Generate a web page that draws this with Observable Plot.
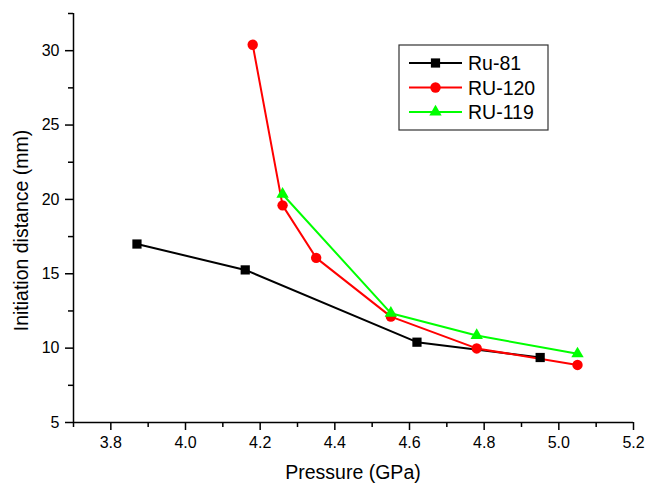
<!DOCTYPE html>
<html>
<head>
<meta charset="utf-8">
<script src="https://cdn.jsdelivr.net/npm/d3@7"></script>
<script src="https://cdn.jsdelivr.net/npm/@observablehq/plot@0.6"></script>
<style>
  html, body { margin: 0; padding: 0; background: #fff; }
  #chart { width: 646px; height: 484px; }
</style>
</head>
<body>
<div id="chart"></div>
<script>
// Data
const seriesNames = ["Ru-81", "RU-120", "RU-119"];
const ru81Pressure = [3.87, 4.16, 4.62, 4.95];
const ru81Distance = [17.0, 15.26, 10.4, 9.37];
const ru120Pressure = [4.18, 4.26, 4.35, 4.55, 4.78, 5.05];
const ru120Distance = [30.4, 19.6, 16.07, 12.12, 9.98, 8.87];
const ru119Pressure = [4.26, 4.55, 4.78, 5.05];
const ru119Distance = [20.35, 12.35, 10.85, 9.62];
const xMajorTicks = [3.8, 4.0, 4.2, 4.4, 4.6, 4.8, 5.0, 5.2];
const xMinorTicks = [3.7, 3.9, 4.1, 4.3, 4.5, 4.7, 4.9, 5.1];
const yMajorTicks = [5, 10, 15, 20, 25, 30];
const yMinorTicks = [7.5, 12.5, 17.5, 22.5, 27.5, 32.5];

const colors = {"Ru-81": "#000000", "RU-120": "#ff0000", "RU-119": "#00ff00"};
const symbols = {"Ru-81": "square", "RU-120": "circle", "RU-119": "triangle"};
const radii = {"Ru-81": 5.2, "RU-120": 5.2, "RU-119": 4.6};

const toRows = (name, xs, ys) => xs.map((x, i) => ({series: name, pressure: x, distance: ys[i]}));
const rows = {
  "Ru-81": toRows("Ru-81", ru81Pressure, ru81Distance),
  "RU-120": toRows("RU-120", ru120Pressure, ru120Distance),
  "RU-119": toRows("RU-119", ru119Pressure, ru119Distance)
};

const seriesMarks = [];
for (const name of seriesNames) {
  seriesMarks.push(Plot.line(rows[name], {x: "pressure", y: "distance", stroke: colors[name], strokeWidth: 2}));
}
for (const name of seriesNames) {
  seriesMarks.push(Plot.dot(rows[name], {x: "pressure", y: "distance", fill: colors[name], stroke: "none", symbol: symbols[name], r: radii[name]}));
}

const fmt = d => d3.format(".1f")(d);
const FONT = "'Liberation Sans', Arial, sans-serif";

const chart = Plot.plot({
  width: 646,
  height: 484,
  marginLeft: 73,
  marginRight: 13,
  marginTop: 13,
  marginBottom: 62,
  style: {fontFamily: FONT, fontSize: "16px", background: "#fff", color: "#000"},
  x: {domain: [3.7, 5.2], label: null},
  y: {domain: [5, 32.5], label: null},
  marks: [
    Plot.axisX({ticks: xMajorTicks, tickSize: 8, tickPadding: 6, tickFormat: fmt, fontSize: 16, stroke: "#000", strokeWidth: 1.5, fill: "#000", label: null}),
    Plot.axisX({ticks: xMinorTicks, tickSize: 5, text: null, stroke: "#000", strokeWidth: 1.5, label: null}),
    Plot.axisY({ticks: yMajorTicks, tickSize: 8, tickPadding: 6, fontSize: 16, stroke: "#000", strokeWidth: 1.5, fill: "#000", label: null}),
    Plot.axisY({ticks: yMinorTicks, tickSize: 5, text: null, stroke: "#000", strokeWidth: 1.5, label: null}),
    Plot.ruleX([3.7], {stroke: "#000", strokeWidth: 1.5}),
    Plot.ruleY([5], {stroke: "#000", strokeWidth: 1.5}),
    ...seriesMarks
  ]
});

document.getElementById("chart").appendChild(chart);

const svg = d3.select(chart);

// Axis titles
svg.append("text")
  .attr("x", 353).attr("y", 479)
  .attr("text-anchor", "middle")
  .style("font-size", "19.5px").style("font-family", FONT).attr("fill", "#000")
  .text("Pressure (GPa)");
svg.append("text")
  .attr("transform", "translate(27.5,230.5) rotate(-90)")
  .attr("text-anchor", "middle")
  .style("font-size", "19.5px").style("font-family", FONT).attr("fill", "#000")
  .text("Initiation distance (mm)");

// Legend
const lg = svg.append("g");
lg.append("rect").attr("x", 399).attr("y", 45).attr("width", 149).attr("height", 85)
  .attr("fill", "#fff").attr("stroke", "#333").attr("stroke-width", 1.2);
const sym = {square: d3.symbolSquare, circle: d3.symbolCircle, triangle: d3.symbolTriangle};
seriesNames.forEach((name, i) => {
  const y = 63 + i * 24.5;
  lg.append("line").attr("x1", 409).attr("x2", 462).attr("y1", y).attr("y2", y)
    .attr("stroke", colors[name]).attr("stroke-width", 2);
  lg.append("path")
    .attr("transform", `translate(435.5,${y})`)
    .attr("d", d3.symbol(sym[symbols[name]], Math.PI * radii[name] * radii[name])())
    .attr("fill", colors[name]);
  lg.append("text").attr("x", 468).attr("y", y).attr("dy", "0.36em")
    .attr("text-anchor", "start")
    .style("font-size", "19.5px").style("font-family", FONT).attr("fill", "#000").text(name);
});
</script>
</body>
</html>
